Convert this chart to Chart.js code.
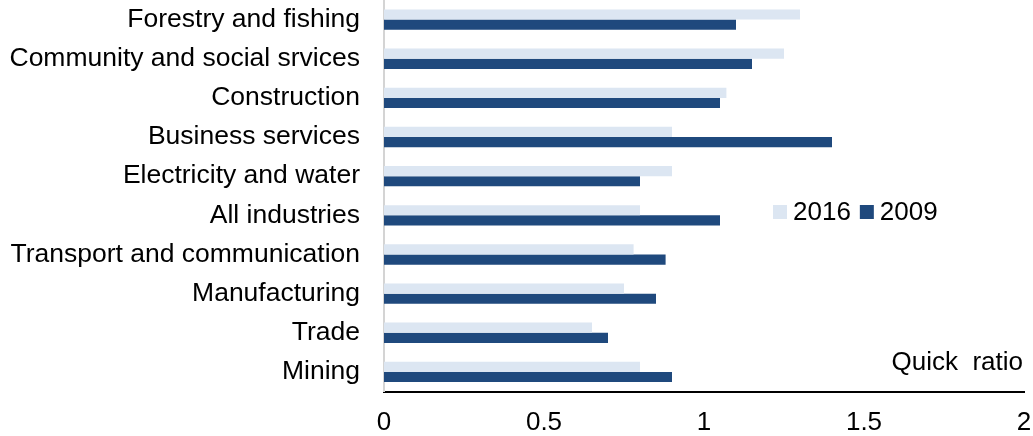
<!DOCTYPE html>
<html>
<head>
<meta charset="utf-8">
<script src="https://cdn.jsdelivr.net/npm/chart.js@4/dist/chart.umd.min.js"></script>
<style>
  html, body { margin: 0; padding: 0; background: #ffffff; }
  #wrap { position: relative; width: 1033px; height: 436px; }
</style>
</head>
<body>
<div id="wrap"><canvas id="c"></canvas></div>
<script>
const categories = [
  "Forestry and fishing",
  "Community and social srvices",
  "Construction",
  "Business services",
  "Electricity and water",
  "All industries",
  "Transport and communication",
  "Manufacturing",
  "Trade",
  "Mining"
];
const seriesNames = ["2016", "2009"];
const values2016 = [1.30, 1.25, 1.07, 0.90, 0.90, 0.80, 0.78, 0.75, 0.65, 0.80];
const values2009 = [1.10, 1.15, 1.05, 1.40, 0.80, 1.05, 0.88, 0.85, 0.70, 0.90];
const xTicks = [0, 0.5, 1, 1.5, 2];
const axisTitle = "Quick  ratio";

const colors = ["#dce6f2", "#1f497d"];
const FONT = "'Liberation Sans', Arial, sans-serif";

const overlay = {
  id: 'overlay',
  afterDraw(chart) {
    const ctx = chart.ctx;
    ctx.save();
    ctx.font = "26px " + FONT;
    ctx.textBaseline = 'middle';
    ctx.textAlign = 'left';
    let x = 773;
    const yMid = 212;
    chart.data.datasets.forEach((ds, i) => {
      ctx.fillStyle = ds.backgroundColor;
      ctx.fillRect(x, yMid - 7, 14, 14);
      x += 20;
      ctx.fillStyle = '#000000';
      ctx.fillText(ds.label, x, yMid + 1);
      x += ctx.measureText(ds.label).width + 9;
    });
    ctx.font = "26px " + FONT;
    ctx.textAlign = 'right';
    ctx.textBaseline = 'alphabetic';
    ctx.fillText(axisTitle, 1023, 370);
    ctx.restore();
  }
};

new Chart(document.getElementById('c'), {
  type: 'bar',
  data: {
    labels: categories,
    datasets: [
      { label: seriesNames[0], data: values2016, backgroundColor: colors[0] },
      { label: seriesNames[1], data: values2009, backgroundColor: colors[1] }
    ]
  },
  options: {
    indexAxis: 'y',
    responsive: true,
    maintainAspectRatio: false,
    animation: false,
    devicePixelRatio: 1,
    layout: { padding: { top: 0, right: 9, bottom: 0, left: 0 } },
    datasets: { bar: { categoryPercentage: 0.52, barPercentage: 1.0, borderWidth: 0 } },
    plugins: { legend: { display: false }, tooltip: { enabled: false } },
    scales: {
      x: {
        type: 'linear',
        min: 0, max: 2,
        afterBuildTicks(s) { s.ticks = xTicks.map(v => ({ value: v })); },
        afterFit(s) { s.height = 44.5; s.paddingLeft = 0; s.paddingRight = 0; },
        grid: { display: false, drawTicks: false },
        border: { display: true, color: '#000000', width: 2 },
        ticks: {
          color: '#000000',
          padding: 16,
          font: { family: FONT, size: 26 },
          callback: (v) => String(v)
        }
      },
      y: {
        type: 'category',
        afterFit(s) { s.width = 384; s.paddingTop = 0; s.paddingBottom = 0; },
        grid: { display: false, drawTicks: false },
        border: { display: true, color: '#d4d4d4', width: 2 },
        ticks: {
          color: '#000000',
          padding: 24,
          font: { family: FONT, size: 26.5 }
        }
      }
    }
  },
  plugins: [overlay]
});
</script>
</body>
</html>
